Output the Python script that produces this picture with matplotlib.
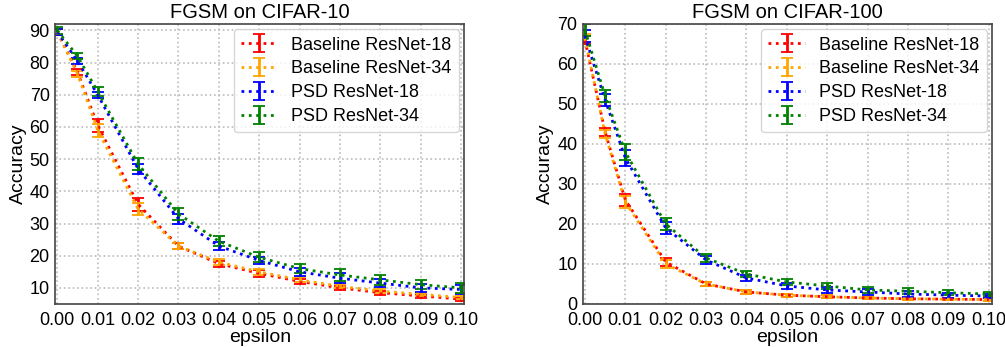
import matplotlib
matplotlib.use('Agg')
import matplotlib.pyplot as plt
import numpy as np

plt.rcParams['font.family'] = ['Liberation Sans', 'DejaVu Sans']

# epsilon values
eps = [0.0, 0.005, 0.01, 0.02, 0.03, 0.04, 0.05, 0.06, 0.07, 0.08, 0.09, 0.10]

# CIFAR-10 accuracies
c10_base18 = [89.5, 77.0, 60.5, 36.0, 23.0, 17.5, 14.5, 12.0, 10.0, 8.5, 7.5, 6.5]
c10_base34 = [89.5, 76.5, 59.0, 34.5, 23.0, 18.0, 15.0, 12.5, 10.5, 9.0, 8.0, 7.0]
c10_psd18 = [89.5, 80.5, 70.0, 47.0, 31.5, 23.0, 18.5, 15.0, 13.0, 11.5, 10.0, 9.5]
c10_psd34 = [90.0, 82.0, 71.0, 48.5, 33.0, 24.5, 19.5, 16.0, 14.0, 12.5, 11.0, 10.0]
c10_err18b = [1.0, 1.0, 2.0, 2.0, 1.0, 1.0, 1.0, 0.8, 0.6, 0.6, 0.5, 0.5]
c10_err34b = [1.0, 1.0, 2.0, 2.0, 1.0, 1.0, 1.0, 0.8, 0.6, 0.6, 0.5, 0.5]
c10_err18p = [1.0, 1.0, 1.0, 1.5, 1.5, 1.2, 1.2, 1.2, 1.5, 1.2, 1.2, 1.5]
c10_err34p = [1.0, 1.0, 1.5, 1.8, 1.8, 1.5, 1.5, 1.5, 1.8, 1.5, 1.5, 1.5]

# CIFAR-100 accuracies
c100_base18 = [66.0, 43.0, 26.0, 10.5, 5.0, 3.0, 2.2, 1.8, 1.5, 1.3, 1.2, 1.1]
c100_base34 = [66.5, 42.5, 25.5, 10.0, 5.0, 3.0, 2.2, 1.8, 1.5, 1.3, 1.2, 1.1]
c100_psd18 = [67.0, 51.0, 36.5, 19.0, 11.0, 6.5, 4.5, 3.5, 3.0, 2.5, 2.2, 2.0]
c100_psd34 = [68.5, 52.0, 38.0, 20.0, 11.5, 7.5, 5.5, 4.5, 3.5, 3.2, 2.8, 2.5]
c100_errb = [1.0, 1.0, 1.5, 1.0, 0.5, 0.4, 0.4, 0.4, 0.3, 0.3, 0.3, 0.3]
c100_errp = [1.5, 1.5, 2.0, 1.5, 1.0, 0.8, 0.8, 0.8, 0.8, 0.8, 0.6, 0.6]

labels = ['Baseline ResNet-18', 'Baseline ResNet-34', 'PSD ResNet-18', 'PSD ResNet-34']
colors = ['red', 'orange', 'blue', 'green']

fig, (ax1, ax2) = plt.subplots(1, 2, figsize=(10.05, 3.47), dpi=100)

def draw(ax, series, errs, title, ylim, yticks):
    for y, e, c, lab in zip(series, errs, colors, labels):
        ax.errorbar(eps, y, yerr=e, color=c, linestyle=':', linewidth=2,
                    elinewidth=2, capsize=4, capthick=1.3, label=lab)
    ax.set_title(title, fontsize=14.5, pad=4)
    ax.set_xlabel('epsilon', fontsize=14, labelpad=0)
    ax.set_ylabel('Accuracy', fontsize=14, labelpad=2)
    ax.set_xlim(-0.0005, 0.1008)
    ax.set_ylim(*ylim)
    ax.set_xticks(np.arange(0, 0.101, 0.01))
    ax.set_xticklabels(['%.2f' % v for v in np.arange(0, 0.101, 0.01)])
    ax.set_yticks(yticks)
    ax.tick_params(labelsize=13, length=0)
    ax.tick_params(axis='x', pad=6)
    ax.tick_params(axis='y', pad=4)
    ax.grid(True, linestyle=':', color='#bbbbbb', linewidth=1.2)
    for s in ax.spines.values():
        s.set_color('#444444')
        s.set_linewidth(1.2)
    ax.legend(loc='upper right', fontsize=13, handlelength=2, frameon=True,
              borderpad=0.4, labelspacing=0.38, borderaxespad=0.3)

draw(ax1, [c10_base18, c10_base34, c10_psd18, c10_psd34],
     [c10_err18b, c10_err34b, c10_err18p, c10_err34p],
     'FGSM on CIFAR-10', (5, 92), range(10, 91, 10))
draw(ax2, [c100_base18, c100_base34, c100_psd18, c100_psd34],
     [c100_errb, c100_errb, c100_errp, c100_errp],
     'FGSM on CIFAR-100', (0, 70), range(0, 71, 10))

plt.subplots_adjust(left=0.055, right=0.987, top=0.931, bottom=0.124, wspace=0.29)
plt.savefig('out.png')
